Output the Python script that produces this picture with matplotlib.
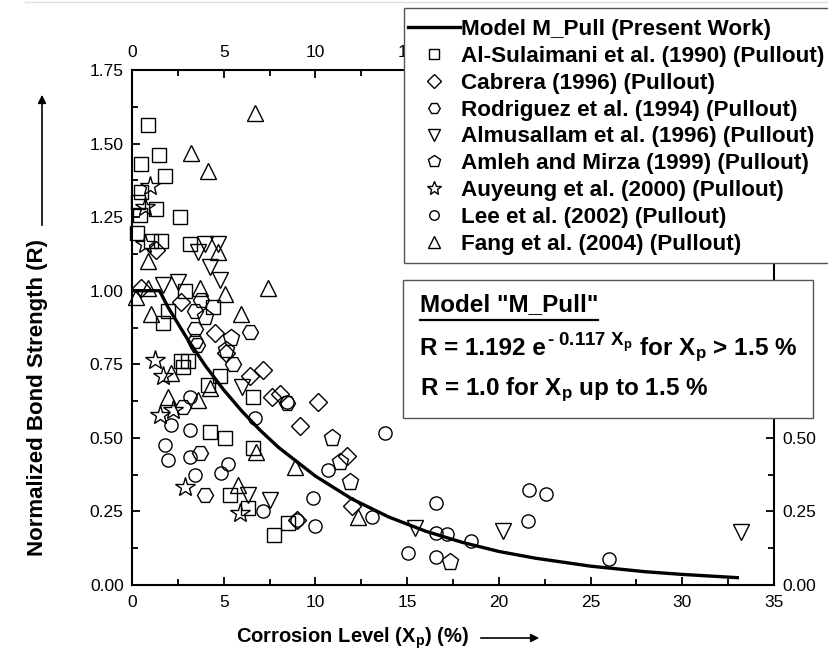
import matplotlib
matplotlib.use("Agg")
import matplotlib.pyplot as plt
from matplotlib.lines import Line2D
from matplotlib.patches import Rectangle, FancyArrowPatch

plt.rcParams["font.family"] = ["Liberation Sans", "DejaVu Sans"]
plt.rcParams["mathtext.fontset"] = "custom"
plt.rcParams["mathtext.rm"] = "Liberation Sans:bold"
plt.rcParams["mathtext.bf"] = "Liberation Sans:bold"
plt.rcParams["mathtext.it"] = "Liberation Sans:bold"

W, H = 829, 668

# model curve M_Pull
model_x = [0, 1.5, 2, 3, 4, 5, 6, 7, 8, 10, 12, 14, 16, 18, 20, 22, 25, 28, 30, 33]
model_y = [1.0, 1.0, 0.94, 0.838, 0.745, 0.663, 0.59, 0.525, 0.467, 0.370, 0.292,
           0.231, 0.183, 0.145, 0.114, 0.091, 0.064, 0.045, 0.036, 0.025]

# Al-Sulaimani et al. (1990)
sq_x = [0.87, 1.47, 0.47, 1.82, 0.49, 1.32, 0.33, 0.42, 2.6, 0.29, 1.04, 1.58, 3.15,
        2.87, 4.42, 1.69, 1.96, 2.69, 3.05, 2.78, 4.78, 4.15, 6.6, 6.6, 4.24, 5.05,
        5.33, 6.33, 7.74, 8.5]
sq_y = [1.563, 1.46, 1.43, 1.39, 1.335, 1.277, 1.30, 1.257, 1.25, 1.195, 1.17, 1.17, 1.16,
        1.00, 0.946, 0.89, 0.93, 0.76, 0.76, 0.74, 0.71, 0.68, 0.64, 0.465, 0.52, 0.50,
        0.306, 0.26, 0.17, 0.21]

# Cabrera (1996)
di_x = [1.31, 0.5, 2.69, 4.51, 5.13, 6.43, 7.16, 7.62, 8.07, 9.16, 10.16, 11.7, 9.0, 12.0]
di_y = [1.14, 1.01, 0.96, 0.855, 0.79, 0.71, 0.73, 0.64, 0.65, 0.54, 0.623, 0.44, 0.22, 0.27]

# Rodriguez et al. (1994)
hx_x = [3.78, 3.42, 3.42, 3.53, 6.42, 5.5, 8.44, 2.78, 3.69, 3.96, 3.42]
hx_y = [0.97, 0.93, 0.87, 0.815, 0.86, 0.75, 0.62, 0.606, 0.447, 0.306, 0.83]

# Almusallam et al. (1996)
td_x = [3.96, 3.6, 4.24, 4.78, 1.69, 2.51, 5.98, 6.33, 7.5, 15.43, 20.2, 33.2, 4.7]
td_y = [1.16, 1.13, 1.08, 1.036, 1.02, 1.03, 0.674, 0.306, 0.29, 0.193, 0.184, 0.18, 1.16]

# Amleh and Mirza (1999)
pe_x = [3.96, 5.41, 5.14, 10.89, 11.34, 11.89, 17.34]
pe_y = [0.91, 0.84, 0.80, 0.498, 0.419, 0.35, 0.079]

# Auyeung et al. (2000)
st_x = [0.96, 0.69, 0.69, 1.24, 1.69, 1.51, 2.24, 2.87, 5.87]
st_y = [1.356, 1.285, 1.16, 0.765, 0.71, 0.578, 0.595, 0.334, 0.244]

# Lee et al. (2002)
ci_x = [6.7, 3.14, 2.14, 3.14, 1.78, 1.96, 3.14, 5.23, 4.87, 3.42, 7.14, 8.43, 10.7,
        9.89, 9.0, 10.0, 13.8, 15.07, 16.58, 16.58, 17.16, 16.58, 18.47, 21.66, 22.56,
        21.6, 26.0, 13.1]
ci_y = [0.566, 0.64, 0.544, 0.527, 0.476, 0.425, 0.436, 0.41, 0.38, 0.374, 0.25, 0.623,
        0.39, 0.295, 0.22, 0.2, 0.515, 0.11, 0.278, 0.176, 0.173, 0.096, 0.15, 0.323,
        0.308, 0.218, 0.087, 0.23]

# Fang et al. (2004)
tu_x = [6.69, 3.23, 4.14, 0.87, 4.69, 5.05, 7.42, 0.87, 3.69, 1.05, 5.96, 2.14, 1.96,
        4.24, 3.6, 6.78, 8.89, 5.78, 12.3, 0.2]
tu_y = [1.605, 1.467, 1.407, 1.10, 1.13, 0.99, 1.01, 1.01, 1.01, 0.92, 0.92, 0.72, 0.64,
        0.668, 0.63, 0.453, 0.40, 0.34, 0.23, 0.98]

labels = [
    "Model M_Pull (Present Work)",
    "Al-Sulaimani et al. (1990) (Pullout)",
    "Cabrera (1996) (Pullout)",
    "Rodriguez et al. (1994) (Pullout)",
    "Almusallam et al. (1996) (Pullout)",
    "Amleh and Mirza (1999) (Pullout)",
    "Auyeung et al. (2000) (Pullout)",
    "Lee et al. (2002) (Pullout)",
    "Fang et al. (2004) (Pullout)",
]

x_ticks = [0, 5, 10, 15, 20, 25, 30, 35]
y_ticks = [0.0, 0.25, 0.5, 0.75, 1.0, 1.25, 1.5, 1.75]


def fx(px):
    return px / W


def fy(py):
    return 1 - py / H


fig = plt.figure(figsize=(W / 100, H / 100), dpi=100)
ax = fig.add_axes([fx(132), fy(585), (774 - 132) / W, (585 - 70) / H])

series = [
    (sq_x, sq_y, "s", 9.4),
    (di_x, di_y, "D", 9.5),
    (hx_x, hx_y, "H", 11.5),
    (td_x, td_y, "v", 12),
    (pe_x, pe_y, "p", 12.5),
    (st_x, st_y, "*", 15),
    (ci_x, ci_y, "o", 9.5),
    (tu_x, tu_y, "^", 12),
]

handles = []
(line,) = ax.plot(model_x, model_y, color="black", lw=2.4, zorder=5)
handles.append(line)
for xs, ys, mk, ms in series:
    (h,) = ax.plot(xs, ys, ls="none", marker=mk, ms=ms, mfc="none",
                   mec="black", mew=1.0, zorder=3, clip_on=False)
    handles.append(h)

ax.set_xlim(0, 35)
ax.set_ylim(0, 1.75)
ax.set_xticks(x_ticks)
ax.set_xticks([2.5 + 5 * i for i in range(7)], minor=True)
ax.set_yticks(y_ticks)
ax.set_yticks([0.125 + 0.25 * i for i in range(7)], minor=True)
ax.yaxis.set_major_formatter(plt.FormatStrFormatter("%.2f"))
ax.tick_params(which="both", direction="in", top=True, right=True,
               labeltop=True, labelright=True, labelsize=12.5, width=1.3)
ax.tick_params(which="major", length=6)
ax.tick_params(which="minor", length=4)
ax.tick_params(axis="x", pad=7)
ax.tick_params(axis="y", pad=6)
for sp in ax.spines.values():
    sp.set_linewidth(1.5)

# labels covered by the legend and the model box in the original
for tick, val in zip(ax.xaxis.get_major_ticks(), x_ticks):
    if val > 15:
        tick.label2.set_visible(False)
for tick, val in zip(ax.yaxis.get_major_ticks(), y_ticks):
    if val > 0.5:
        tick.label2.set_visible(False)

# axis titles with arrows
fig.text(fx(38), fy(398), "Normalized Bond Strength (R)", rotation=90,
         ha="center", va="center", fontsize=16, fontweight="bold")
fig.text(fx(352), fy(638), r"Corrosion Level (X$_\mathbf{p}$) (%)",
         ha="center", va="center", fontsize=14.5, fontweight="bold")
fig.add_artist(FancyArrowPatch(
    (fx(42), fy(228)), (fx(42), fy(92)), transform=fig.transFigure,
    arrowstyle="-|>", mutation_scale=12, lw=1.2, color="black"))
fig.add_artist(FancyArrowPatch(
    (fx(478), fy(638)), (fx(542), fy(638)), transform=fig.transFigure,
    arrowstyle="-|>", mutation_scale=12, lw=1.2, color="black"))

# faint border line at top
fig.add_artist(Line2D([0.03, 1], [fy(2), fy(2)], transform=fig.transFigure,
                      color="#e0e0e0", lw=1))

# legend box
fig.add_artist(Rectangle((fx(404), fy(263)), (835 - 404) / W, (263 - 8) / H,
                         transform=fig.transFigure, facecolor="white",
                         edgecolor="#555555", lw=1.0, zorder=4))
leg = fig.legend(handles, labels, loc="upper left",
                 bbox_to_anchor=(fx(408), fy(19)), bbox_transform=fig.transFigure,
                 frameon=False, prop={"weight": "bold", "size": 16.2},
                 handlelength=2.3, handletextpad=0.05, labelspacing=0.26,
                 markerscale=0.72, borderaxespad=0, borderpad=0)
leg.set_zorder(6)

# model text box
fig.add_artist(Rectangle((fx(403), fy(418)), (813 - 403) / W, (418 - 280) / H,
                         transform=fig.transFigure, facecolor="white",
                         edgecolor="#555555", lw=1.0, zorder=4))

renderer = fig.canvas.get_renderer()


def put(x_px, base_px, s, size):
    t = fig.text(fx(x_px), fy(base_px), s, ha="left", va="baseline",
                 fontsize=size, fontweight="bold", zorder=6)
    return t.get_window_extent(renderer).x1


box_font = 17.5
end1 = put(420, 311, 'Model "M_Pull"', box_font)
fig.add_artist(Line2D([fx(420), fx(end1)], [fy(320), fy(320)],
                      transform=fig.transFigure, color="black", lw=1.6, zorder=6))

x = put(420, 355, "R = 1.192 e", box_font)
x = put(x + 1, 346, r"- 0.117 X$_\mathbf{p}$", 13.5)
put(x, 355, r" for X$_\mathbf{p}$ > 1.5 %", box_font)

put(420, 395, r"R = 1.0 for X$_\mathbf{p}$ up to 1.5 %", box_font)

fig.savefig("out.png", dpi=100)
